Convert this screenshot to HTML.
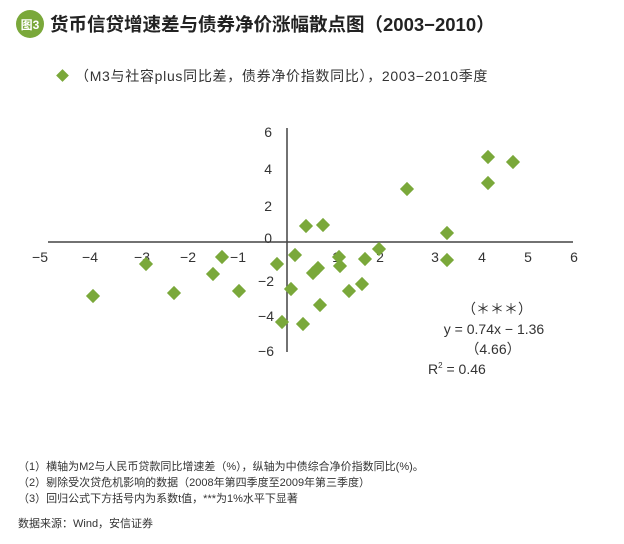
<!DOCTYPE html>
<html><head><meta charset="utf-8"><style>
body{margin:0;background:#fff;width:624px;height:539px;overflow:hidden;font-family:"Liberation Sans","Noto Sans CJK SC",sans-serif;color:#333;}
</style></head><body>
<svg width="624" height="539" xmlns="http://www.w3.org/2000/svg" font-family="Liberation Sans, Noto Sans CJK SC, sans-serif">
<circle cx="30" cy="24" r="14" fill="#7aa83a"/>
<text x="30" y="29" fill="#fff" font-size="12" text-anchor="middle" font-weight="bold">图3</text>
<text x="50" y="31" fill="#222" font-size="18.5" font-weight="bold">货币信贷增速差与债券净价涨幅散点图（2003−2010）</text>
<rect x="58" y="71" width="9" height="9" fill="#7aa83a" transform="rotate(45 62.5 75.5)"/>
<text x="75" y="81" fill="#333" font-size="14" letter-spacing="0.7">（M3与社容plus同比差，债券净价指数同比），2003−2010季度</text>
<line x1="48" y1="242" x2="573" y2="242" stroke="#444" stroke-width="1.5"/>
<line x1="287" y1="128" x2="287" y2="352" stroke="#444" stroke-width="1.5"/>
<g font-size="14" fill="#333" text-anchor="middle">
<text x="40" y="262">−5</text><text x="90" y="262">−4</text><text x="142" y="262">−3</text><text x="188" y="262">−2</text><text x="238" y="262">−1</text>
<text x="336" y="262">1</text><text x="380" y="262">2</text><text x="435" y="262">3</text><text x="482" y="262">4</text><text x="528" y="262">5</text><text x="574" y="262">6</text>
</g>
<g font-size="14" fill="#333" text-anchor="end">
<text x="272" y="137">6</text><text x="272" y="174">4</text><text x="272" y="211">2</text><text x="272" y="243">0</text>
<text x="274" y="286">−2</text><text x="274" y="321">−4</text><text x="274" y="356">−6</text>
</g>
<g fill="#7aa83a">
<rect x="-5" y="-5" width="10" height="10" transform="translate(93 296) rotate(45)"/>
<rect x="-5" y="-5" width="10" height="10" transform="translate(146 264) rotate(45)"/>
<rect x="-5" y="-5" width="10" height="10" transform="translate(174 293) rotate(45)"/>
<rect x="-5" y="-5" width="10" height="10" transform="translate(213 274) rotate(45)"/>
<rect x="-5" y="-5" width="10" height="10" transform="translate(222 257) rotate(45)"/>
<rect x="-5" y="-5" width="10" height="10" transform="translate(239 291) rotate(45)"/>
<rect x="-5" y="-5" width="10" height="10" transform="translate(277 264) rotate(45)"/>
<rect x="-5" y="-5" width="10" height="10" transform="translate(295 255) rotate(45)"/>
<rect x="-5" y="-5" width="10" height="10" transform="translate(291 289) rotate(45)"/>
<rect x="-5" y="-5" width="10" height="10" transform="translate(282 322) rotate(45)"/>
<rect x="-5" y="-5" width="10" height="10" transform="translate(303 324) rotate(45)"/>
<rect x="-5" y="-5" width="10" height="10" transform="translate(306 226) rotate(45)"/>
<rect x="-5" y="-5" width="10" height="10" transform="translate(323 225) rotate(45)"/>
<rect x="-5" y="-5" width="10" height="10" transform="translate(313 273) rotate(45)"/>
<rect x="-5" y="-5" width="10" height="10" transform="translate(318 268) rotate(45)"/>
<rect x="-5" y="-5" width="10" height="10" transform="translate(320 305) rotate(45)"/>
<rect x="-5" y="-5" width="10" height="10" transform="translate(339 257) rotate(45)"/>
<rect x="-5" y="-5" width="10" height="10" transform="translate(340 266) rotate(45)"/>
<rect x="-5" y="-5" width="10" height="10" transform="translate(349 291) rotate(45)"/>
<rect x="-5" y="-5" width="10" height="10" transform="translate(362 284) rotate(45)"/>
<rect x="-5" y="-5" width="10" height="10" transform="translate(365 259) rotate(45)"/>
<rect x="-5" y="-5" width="10" height="10" transform="translate(379 249) rotate(45)"/>
<rect x="-5" y="-5" width="10" height="10" transform="translate(407 189) rotate(45)"/>
<rect x="-5" y="-5" width="10" height="10" transform="translate(447 233) rotate(45)"/>
<rect x="-5" y="-5" width="10" height="10" transform="translate(447 260) rotate(45)"/>
<rect x="-5" y="-5" width="10" height="10" transform="translate(488 157) rotate(45)"/>
<rect x="-5" y="-5" width="10" height="10" transform="translate(488 183) rotate(45)"/>
<rect x="-5" y="-5" width="10" height="10" transform="translate(513 162) rotate(45)"/>
</g>
<g font-size="14" fill="#333" text-anchor="middle">
<text x="497" y="314">（＊＊＊）</text>
<text x="494" y="334">y = 0.74x − 1.36</text>
<text x="493" y="354">（4.66）</text>
</g>
<text x="428" y="374" font-size="14" fill="#333">R<tspan font-size="8" dy="-6">2</tspan><tspan dy="6"> = 0.46</tspan></text>
<g font-size="11" fill="#333">
<text x="18" y="470">（1）横轴为M2与人民币贷款同比增速差（%），纵轴为中债综合净价指数同比(%)。</text>
<text x="18" y="486">（2）剔除受次贷危机影响的数据（2008年第四季度至2009年第三季度）</text>
<text x="18" y="502">（3）回归公式下方括号内为系数t值，***为1%水平下显著</text>
<text x="18" y="527">数据来源：Wind，安信证券</text>
</g>
</svg>
</body></html>
